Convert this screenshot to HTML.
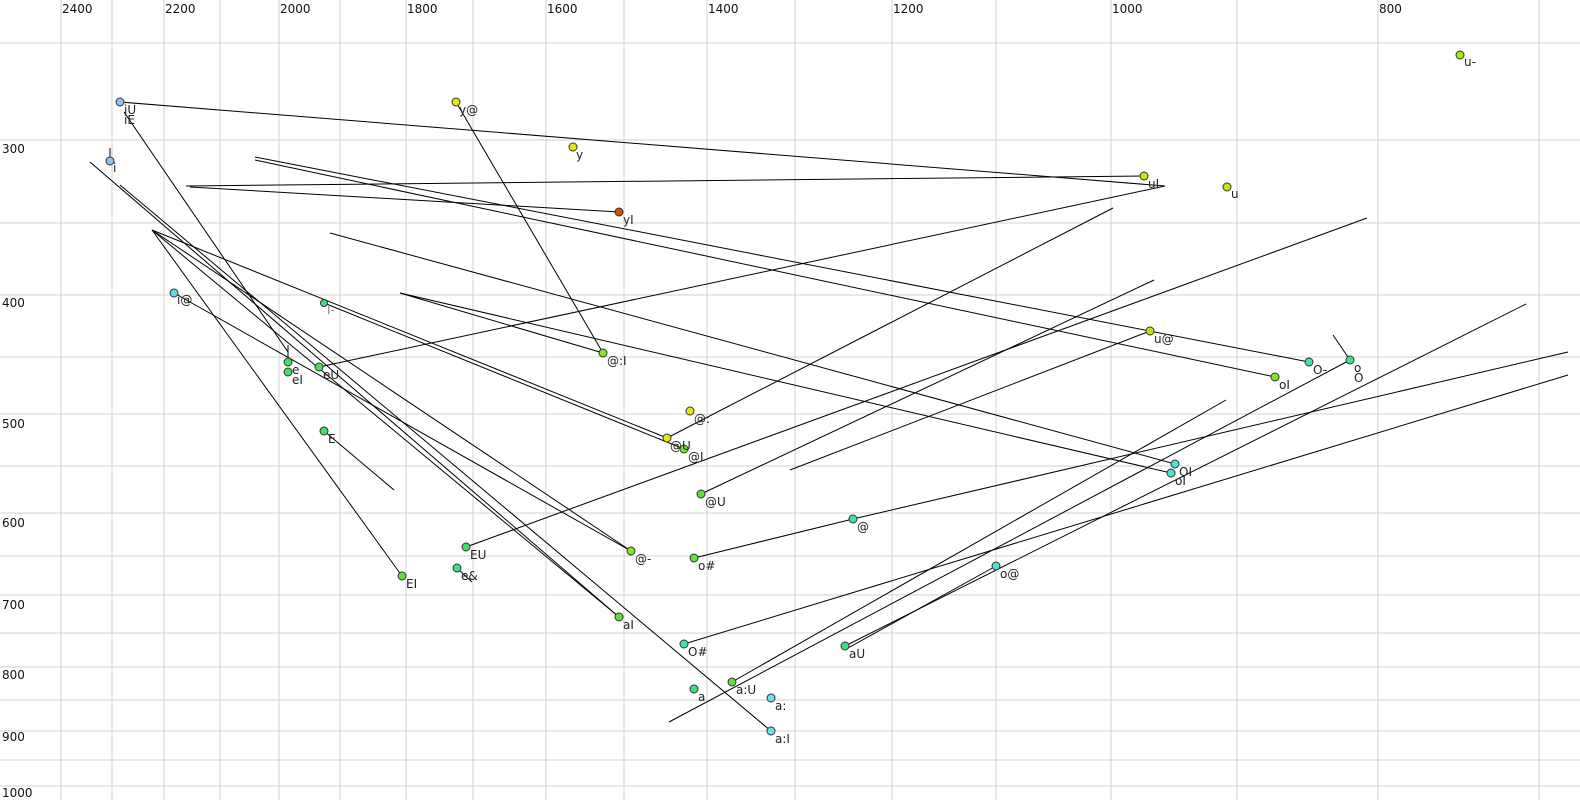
<!DOCTYPE html>
<html><head><meta charset="utf-8"><style>
html,body{margin:0;padding:0;background:#fff;}
svg{display:block;font-family:"DejaVu Sans","Liberation Sans",sans-serif;}
</style></head><body>
<svg width="1580" height="800" viewBox="0 0 1580 800" xmlns="http://www.w3.org/2000/svg">
<g stroke="#d0d0d0" stroke-width="1">
<line x1="61" y1="0" x2="61" y2="800"/><line x1="112" y1="0" x2="112" y2="800"/><line x1="164" y1="0" x2="164" y2="800"/><line x1="220" y1="0" x2="220" y2="800"/><line x1="279" y1="0" x2="279" y2="800"/><line x1="340" y1="0" x2="340" y2="800"/><line x1="406" y1="0" x2="406" y2="800"/><line x1="473" y1="0" x2="473" y2="800"/><line x1="546" y1="0" x2="546" y2="800"/><line x1="624" y1="0" x2="624" y2="800"/><line x1="707" y1="0" x2="707" y2="800"/><line x1="795" y1="0" x2="795" y2="800"/><line x1="892" y1="0" x2="892" y2="800"/><line x1="996" y1="0" x2="996" y2="800"/><line x1="1111" y1="0" x2="1111" y2="800"/><line x1="1237" y1="0" x2="1237" y2="800"/><line x1="1378" y1="0" x2="1378" y2="800"/><line x1="1539" y1="0" x2="1539" y2="800"/>
<line x1="0" y1="43" x2="1580" y2="43"/><line x1="0" y1="140" x2="1580" y2="140"/><line x1="0" y1="223" x2="1580" y2="223"/><line x1="0" y1="295" x2="1580" y2="295"/><line x1="0" y1="357" x2="1580" y2="357"/><line x1="0" y1="414" x2="1580" y2="414"/><line x1="0" y1="466" x2="1580" y2="466"/><line x1="0" y1="513" x2="1580" y2="513"/><line x1="0" y1="556" x2="1580" y2="556"/><line x1="0" y1="595" x2="1580" y2="595"/><line x1="0" y1="633" x2="1580" y2="633"/><line x1="0" y1="667" x2="1580" y2="667"/><line x1="0" y1="700" x2="1580" y2="700"/><line x1="0" y1="731" x2="1580" y2="731"/><line x1="0" y1="760" x2="1580" y2="760"/><line x1="0" y1="786" x2="1580" y2="786"/>
</g>
<g font-size="12" fill="#111">
<text x="62" y="13">2400</text><text x="165" y="13">2200</text><text x="280" y="13">2000</text><text x="407" y="13">1800</text><text x="547" y="13">1600</text><text x="708" y="13">1400</text><text x="893" y="13">1200</text><text x="1112" y="13">1000</text><text x="1379" y="13">800</text>
<text x="2" y="153">300</text><text x="2" y="307">400</text><text x="2" y="428">500</text><text x="2" y="527">600</text><text x="2" y="609">700</text><text x="2" y="679">800</text><text x="2" y="741">900</text><text x="2" y="797">1000</text>
</g>
<g stroke="#000" stroke-width="1" fill="none">
<line x1="120" y1="102" x2="1165" y2="186"/>
<line x1="186" y1="186" x2="1144" y2="176"/>
<line x1="190" y1="187" x2="619" y2="212"/>
<line x1="124" y1="112" x2="288" y2="352"/>
<line x1="288" y1="345" x2="288" y2="362"/>
<line x1="110" y1="148" x2="110" y2="160"/>
<line x1="90" y1="162" x2="619" y2="617"/>
<line x1="120" y1="185" x2="771" y2="731"/>
<line x1="152" y1="230" x2="631" y2="551"/>
<line x1="152" y1="230" x2="402" y2="576"/>
<line x1="152" y1="230" x2="619" y2="617"/>
<line x1="152" y1="230" x2="667" y2="438"/>
<line x1="174" y1="293" x2="631" y2="551"/>
<line x1="255" y1="157" x2="1309" y2="362"/>
<line x1="255" y1="160" x2="1275" y2="377"/>
<line x1="330" y1="233" x2="1175" y2="464"/>
<line x1="400" y1="293" x2="1171" y2="473"/>
<line x1="400" y1="293" x2="603" y2="353"/>
<line x1="456" y1="102" x2="603" y2="353"/>
<line x1="319" y1="367" x2="1165" y2="186"/>
<line x1="324" y1="303" x2="684" y2="449"/>
<line x1="324" y1="431" x2="394" y2="490"/>
<line x1="457" y1="568" x2="472" y2="582"/>
<line x1="466" y1="547" x2="1367" y2="218"/>
<line x1="667" y1="438" x2="1113" y2="208"/>
<line x1="701" y1="494" x2="1154" y2="280"/>
<line x1="790" y1="470" x2="1150" y2="331"/>
<line x1="669" y1="722" x2="1350" y2="360"/>
<line x1="1333" y1="335" x2="1350" y2="360"/>
<line x1="845" y1="646" x2="1526" y2="304"/>
<line x1="848" y1="648" x2="996" y2="566"/>
<line x1="732" y1="682" x2="1226" y2="400"/>
<line x1="694" y1="558" x2="853" y2="519"/>
<line x1="853" y1="519" x2="1568" y2="352"/>
<line x1="684" y1="644" x2="1568" y2="375"/>
</g>
<g stroke="#333" stroke-width="1">
<circle cx="1460" cy="55" r="4" fill="#a8e810"/>
<circle cx="120" cy="102" r="4" fill="#8ec0f0"/>
<circle cx="456" cy="102" r="4" fill="#e8e810"/>
<circle cx="573" cy="147" r="4" fill="#e8e810"/>
<circle cx="110" cy="161" r="4" fill="#8ec0f0"/>
<circle cx="1144" cy="176" r="4" fill="#c0e810"/>
<circle cx="1227" cy="187" r="4" fill="#c0e810"/>
<circle cx="619" cy="212" r="4" fill="#e04810"/>
<circle cx="174" cy="293" r="4" fill="#60d8e8"/>
<circle cx="324" cy="303" r="3.5" fill="#40e080"/>
<circle cx="1150" cy="331" r="4" fill="#c0e810"/>
<circle cx="603" cy="353" r="4" fill="#80e820"/>
<circle cx="288" cy="362" r="4" fill="#40e060"/>
<circle cx="288" cy="372" r="4" fill="#40e060"/>
<circle cx="319" cy="367" r="4" fill="#40e060"/>
<circle cx="1309" cy="362" r="4" fill="#40e0b0"/>
<circle cx="1350" cy="360" r="4" fill="#40e090"/>
<circle cx="1275" cy="377" r="4" fill="#80e820"/>
<circle cx="690" cy="411" r="4" fill="#e8e810"/>
<circle cx="667" cy="438" r="4" fill="#e8e810"/>
<circle cx="684" cy="449" r="4" fill="#80e820"/>
<circle cx="324" cy="431" r="4" fill="#40e060"/>
<circle cx="1175" cy="464" r="4" fill="#50e0d8"/>
<circle cx="1171" cy="473" r="4" fill="#50e0d8"/>
<circle cx="701" cy="494" r="4" fill="#60e040"/>
<circle cx="853" cy="519" r="4" fill="#40e0b0"/>
<circle cx="466" cy="547" r="4" fill="#40e060"/>
<circle cx="631" cy="551" r="4" fill="#80e820"/>
<circle cx="694" cy="558" r="4" fill="#60e040"/>
<circle cx="996" cy="566" r="4" fill="#50e0d8"/>
<circle cx="457" cy="568" r="4" fill="#40e080"/>
<circle cx="402" cy="576" r="4" fill="#60e040"/>
<circle cx="619" cy="617" r="4" fill="#60e040"/>
<circle cx="684" cy="644" r="4" fill="#40e0b0"/>
<circle cx="845" cy="646" r="4" fill="#40e080"/>
<circle cx="732" cy="682" r="4" fill="#60e040"/>
<circle cx="694" cy="689" r="4" fill="#40e080"/>
<circle cx="771" cy="698" r="4" fill="#70e0e8"/>
<circle cx="771" cy="731" r="4" fill="#70e0e8"/>
</g>
<g font-size="12" fill="#222">
<text x="1464" y="66">u-</text>
<text x="124" y="114">iU</text><text x="124" y="124">iE</text>
<text x="459" y="114">y@</text>
<text x="576" y="159">y</text>
<text x="113" y="172">i</text>
<text x="1148" y="188">uI</text>
<text x="1231" y="198">u</text>
<text x="623" y="224">yI</text>
<text x="177" y="304">i@</text>
<text x="327" y="314" fill="#888">I-</text>
<text x="1154" y="343">u@</text>
<text x="607" y="365">@:I</text>
<text x="292" y="374">e</text><text x="292" y="384">eI</text>
<text x="323" y="379">eU</text>
<text x="1313" y="374">O-</text>
<text x="1354" y="372">o</text><text x="1354" y="382">O</text>
<text x="1279" y="389">oI</text>
<text x="694" y="423">@:</text>
<text x="670" y="450">@U</text>
<text x="688" y="461">@I</text>
<text x="328" y="443">E</text>
<text x="1179" y="476">OI</text><text x="1175" y="485">oI</text>
<text x="705" y="506">@U</text>
<text x="857" y="531">@</text>
<text x="470" y="559">EU</text>
<text x="635" y="563">@-</text>
<text x="698" y="570">o#</text>
<text x="1000" y="578">o@</text>
<text x="461" y="580">e&amp;</text>
<text x="406" y="588">EI</text>
<text x="623" y="629">aI</text>
<text x="688" y="656">O#</text>
<text x="849" y="658">aU</text>
<text x="736" y="694">a:U</text>
<text x="698" y="701">a</text>
<text x="775" y="710">a:</text>
<text x="775" y="743">a:I</text>
</g>
</svg>
</body></html>
